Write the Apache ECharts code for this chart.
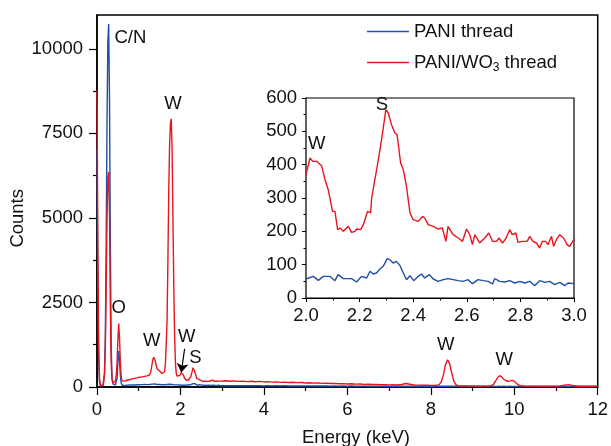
<!DOCTYPE html>
<html><head><meta charset="utf-8">
<script src="https://cdn.jsdelivr.net/npm/echarts@6/dist/echarts.min.js"></script>
<style>html,body{margin:0;padding:0;background:#fff}#c{width:611px;height:446px}</style>
</head><body><div id="c"></div>
<script>
// ---- Data ----
const seriesNames = ['PANI thread', 'PANI/WO\u2083 thread'];

// 0 - 2 keV
const energyLow = [0.00,0.02,0.04,0.06,0.08,0.10,0.12,0.14,0.16,0.18,
  0.20,0.22,0.24,0.26,0.28,0.30,0.32,0.34,0.36,0.38,
  0.40,0.42,0.44,0.46,0.48,0.50,0.52,0.54,0.56,0.58,
  0.60,0.62,0.64,0.66,0.68,0.70,0.72,0.74,0.76,0.78,
  0.80,0.82,0.84,0.86,0.88,0.90,0.92,0.94,0.96,0.98,
  1.00,1.02,1.04,1.06,1.08,1.10,1.12,1.14,1.16,1.18,
  1.20,1.22,1.24,1.26,1.28,1.30,1.32,1.34,1.36,1.38,
  1.40,1.42,1.44,1.46,1.48,1.50,1.52,1.54,1.56,1.58,
  1.60,1.62,1.64,1.66,1.68,1.70,1.72,1.74,1.76,1.78,
  1.80,1.82,1.84,1.86,1.88,1.90,1.92,1.94,1.96,1.98];
const redLow = [8770,4200,1200,250,60,30,25,40,120,400,
  1200,3000,5000,6200,6360,5000,2300,700,230,130,
  110,120,170,320,700,1400,1880,1450,700,300,
  180,150,160,175,170,190,200,195,210,215,
  225,220,240,235,250,255,260,250,270,275,
  280,290,285,295,300,305,300,315,310,320,
  330,325,340,360,420,520,680,820,880,860,
  760,620,540,510,490,470,450,420,400,380,
  390,450,700,1300,2000,3800,5800,7200,7800,7930,
  7000,5000,3000,1500,700,400,320,300,310,340];
const blueLow = [7000,3000,800,150,40,20,20,30,80,400,
  1500,4200,7800,10200,10730,8500,4200,1200,300,90,
  60,50,60,100,250,700,1060,800,350,120,
  60,40,45,40,50,45,55,50,55,60,
  55,62,58,60,65,60,66,62,68,64,
  70,66,72,68,70,74,70,72,68,74,
  70,72,75,74,78,82,86,90,92,88,
  84,78,74,72,70,72,68,70,66,68,
  64,66,68,70,74,78,80,82,84,80,
  76,72,68,64,62,60,62,58,60,58];

// 2 - 3 keV (also shown in the inset)
const insetEnergyRed = [2.000,2.015,2.025,2.040,2.058,2.071,2.083,2.099,2.108,2.118,
  2.127,2.139,2.158,2.170,2.183,2.189,2.204,2.214,2.230,2.241,
  2.245,2.257,2.270,2.282,2.298,2.307,2.319,2.332,2.340,2.353,
  2.363,2.375,2.388,2.400,2.419,2.435,2.443,2.456,2.475,2.493,
  2.509,2.522,2.530,2.549,2.568,2.584,2.599,2.611,2.621,2.630,
  2.648,2.667,2.682,2.696,2.711,2.720,2.733,2.745,2.760,2.770,
  2.783,2.791,2.807,2.825,2.835,2.847,2.860,2.872,2.882,2.894,
  2.903,2.916,2.924,2.934,2.947,2.961,2.974,2.984,3.000];
const insetRed = [370,420,410,410,397,355,325,260,260,205,
  210,200,215,197,200,207,205,220,260,255,
  300,355,415,475,565,555,520,495,490,405,
  385,335,255,235,230,245,240,220,215,207,
  210,170,215,190,180,170,207,190,160,190,
  165,180,195,170,170,180,165,177,205,190,
  195,167,170,170,185,170,165,150,170,170,
  160,185,155,175,190,180,160,155,177];
const insetEnergyBlue = [2.000,2.027,2.046,2.065,2.089,2.108,2.120,2.139,2.170,2.189,
  2.207,2.226,2.239,2.251,2.263,2.276,2.288,2.303,2.313,2.325,
  2.338,2.350,2.363,2.375,2.388,2.402,2.419,2.431,2.443,2.460,
  2.475,2.493,2.512,2.530,2.549,2.568,2.586,2.605,2.621,2.642,
  2.661,2.680,2.696,2.704,2.723,2.742,2.760,2.779,2.798,2.816,
  2.835,2.853,2.872,2.891,2.909,2.928,2.947,2.965,2.978,3.000];
const insetBlue = [57,65,53,65,65,52,70,58,58,48,
  65,60,80,72,75,87,95,118,115,105,
  110,98,75,55,67,52,65,72,60,70,
  57,50,55,58,55,52,50,55,43,55,
  52,50,42,58,50,48,52,45,50,45,
  50,37,52,47,50,40,47,37,45,43];

// 3 - 12 keV
const energyHigh = [3.1,3.2,3.3,3.4,3.5,3.6,3.7,3.8,3.9,4.0,
  4.1,4.2,4.3,4.4,4.5,4.6,4.7,4.8,4.9,5.0,
  5.1,5.2,5.3,5.4,5.5,5.6,5.7,5.8,5.9,6.0,
  6.1,6.2,6.3,6.4,6.5,6.6,6.7,6.8,6.9,7.0,
  7.1,7.2,7.3,7.4,7.5,7.6,7.7,7.8,7.9,
  8.0,8.05,8.1,8.15,8.2,8.25,8.3,8.35,8.4,8.45,
  8.5,8.55,8.6,8.65,8.7,8.75,8.8,8.85,8.9,8.95,
  9.0,9.05,9.1,9.15,9.2,9.25,9.3,9.35,9.4,9.45,
  9.5,9.55,9.6,9.65,9.7,9.75,9.8,9.85,9.9,9.95,
  10.0,10.05,10.1,10.15,10.2,10.25,10.3,10.35,10.4,
  10.5,10.6,10.7,10.8,10.9,11.0,11.1,11.2,11.3,11.4,11.5,11.6,11.7,11.8,11.9,12.0];
const redHigh = [185,170,180,165,175,160,170,155,165,150,
  158,145,150,138,145,132,140,128,133,120,
  126,115,120,108,114,102,108,96,100,90,
  95,85,88,78,82,72,76,66,70,62,
  66,60,75,105,80,58,55,50,52,
  48,46,45,50,70,150,350,650,805,700,
  420,180,70,40,32,30,28,30,26,28,
  25,27,24,26,25,24,22,25,28,40,
  80,170,280,335,300,230,185,170,180,195,
  175,110,60,38,30,28,27,26,26,
  25,24,25,24,25,26,30,50,70,45,28,24,22,22,20,20];
const blueHigh = [42,38,41,37,40,36,39,35,38,34,
  37,33,36,32,35,31,34,30,33,30,
  32,29,31,28,30,27,29,27,28,26,
  28,25,27,25,26,24,26,23,25,23,
  24,22,24,22,23,21,23,22,21,
  22,21,22,20,21,22,21,22,20,21,
  22,20,21,20,21,19,20,21,20,19,
  20,21,19,20,19,20,21,19,20,19,
  20,19,18,20,19,20,18,19,20,18,
  19,18,19,20,18,19,18,19,18,
  18,19,17,18,19,17,18,17,18,17,18,17,16,17,16,17];

// Tick labels
const mainYTicks = [0, 2500, 5000, 7500, 10000];
const mainYMinorTicks = [1250, 3750, 6250, 8750];

// Peak annotations (main plot, data coordinates)
const annoText = ['C/N', 'W', 'O', 'W', 'W', 'S', 'W', 'W'];
const annoX = [0.80, 1.82, 0.52, 1.31, 2.15, 2.36, 8.36, 9.76];
const annoY = [10330, 8380, 2330, 1350, 1490, 870, 1250, 790];
const arrowFrom = [2.10, 1130];
const arrowTo = [2.02, 430];
// Inset annotations
const insetAnnoText = ['W', 'S'];
const insetAnnoX = [2.04, 2.283];
const insetAnnoY = [461, 578];

// ---- Build ----
const pair = (xs, ys) => xs.map((x, i) => [x, ys[i]]);
const mainBlue = pair(energyLow, blueLow).concat(pair(insetEnergyBlue, insetBlue), pair(energyHigh, blueHigh));
const mainRed = pair(energyLow, redLow).concat(pair(insetEnergyRed, insetRed), pair(energyHigh, redHigh));

const BLUE = '#1f4fa6', RED = '#e8141e', TXT = '#111';
const FONT = 'Liberation Sans, Arial, sans-serif';
const FS = 18.5;

const chart = echarts.init(document.getElementById('c'), null, {renderer: 'canvas'});
chart.setOption({
  animation: false,
  textStyle: {fontFamily: FONT},
  grid: [
    {left: 97, top: 15, right: 11, bottom: 59, show: true, borderColor: '#000', borderWidth: 1.5, backgroundColor: 'transparent'},
    {left: 306, top: 98, width: 268, height: 200, show: true, borderColor: '#000', borderWidth: 1.2, backgroundColor: '#fff', z: 3}
  ],
  legend: {
    data: seriesNames, orient: 'vertical', left: 362, top: 17, icon: 'rect', itemWidth: 42, itemHeight: 1.6, itemGap: 12,
    textStyle: {fontSize: FS, color: TXT, fontFamily: FONT,
      rich: {n: {fontSize: FS, color: TXT, fontFamily: FONT}, s: {fontSize: 12, color: TXT, fontFamily: FONT, padding: [10, 0, 0, 0]}}},
    formatter: name => name === seriesNames[1] ? '{n|PANI/WO}{s|3}{n| thread}' : name
  },
  xAxis: [
    {gridIndex: 0, type: 'value', min: 0, max: 12, interval: 2,
      axisLine: {lineStyle: {color: '#000', width: 1.5}},
      axisTick: {inside: false, length: 8, lineStyle: {color: '#000', width: 1.2}},
      minorTick: {show: true, splitNumber: 2, length: 4, lineStyle: {color: '#000', width: 1.2}},
      axisLabel: {fontSize: FS, color: TXT, margin: 13, fontFamily: FONT},
      splitLine: {show: false}},
    {gridIndex: 1, type: 'value', min: 2.0, max: 3.0, interval: 0.2,
      axisLine: {lineStyle: {color: '#000', width: 1.2}},
      axisTick: {length: 4, lineStyle: {color: '#000', width: 1}},
      minorTick: {show: true, splitNumber: 2, length: 2.5, lineStyle: {color: '#000', width: 1}},
      axisLabel: {fontSize: FS, color: TXT, margin: 8, fontFamily: FONT, formatter: v => v.toFixed(1)},
      splitLine: {show: false}}
  ],
  yAxis: [
    {gridIndex: 0, type: 'value', min: 0, max: 11000,
      axisLine: {show: true, lineStyle: {color: '#000', width: 1.5}},
      axisTick: {show: true, length: 8, customValues: mainYTicks, lineStyle: {color: '#000', width: 1.2}},
      axisLabel: {fontSize: FS, color: TXT, margin: 14, fontFamily: FONT, customValues: mainYTicks, formatter: v => String(v)},
      splitLine: {show: false}},
    {gridIndex: 0, type: 'value', min: 0, max: 11000,
      axisLine: {show: false},
      axisTick: {show: true, length: 4, customValues: mainYMinorTicks, lineStyle: {color: '#000', width: 1.2}},
      axisLabel: {show: false}, splitLine: {show: false}, position: 'left'},
    {gridIndex: 1, type: 'value', min: 0, max: 600, interval: 100,
      axisLine: {show: true, lineStyle: {color: '#000', width: 1.2}},
      axisTick: {length: 4, lineStyle: {color: '#000', width: 1}},
      minorTick: {show: true, splitNumber: 2, length: 2.5, lineStyle: {color: '#000', width: 1}},
      axisLabel: {fontSize: FS, color: TXT, margin: 9, fontFamily: FONT},
      splitLine: {show: false}}
  ],
  series: [
    {name: seriesNames[0], type: 'line', xAxisIndex: 0, yAxisIndex: 0, data: mainBlue, showSymbol: false, symbol: 'none',
      lineStyle: {color: BLUE, width: 1.4}, itemStyle: {color: BLUE}, z: 2},
    {name: seriesNames[1], type: 'line', xAxisIndex: 0, yAxisIndex: 0, data: mainRed, showSymbol: false, symbol: 'none',
      lineStyle: {color: RED, width: 1.4}, itemStyle: {color: RED}, z: 2},
    {name: 'inset-blue', type: 'line', xAxisIndex: 1, yAxisIndex: 2, data: pair(insetEnergyBlue, insetBlue), showSymbol: false, symbol: 'none',
      lineStyle: {color: BLUE, width: 1.4}, z: 4, clip: true},
    {name: 'inset-red', type: 'line', xAxisIndex: 1, yAxisIndex: 2, data: pair(insetEnergyRed, insetRed), showSymbol: false, symbol: 'none',
      lineStyle: {color: RED, width: 1.4}, z: 4, clip: true},
    {name: 'annotations', type: 'scatter', xAxisIndex: 0, yAxisIndex: 0, symbolSize: 0, silent: true, z: 6,
      itemStyle: {opacity: 1},
      data: annoText.map((t, i) => ({name: t, value: [annoX[i], annoY[i]]})),
      label: {show: true, position: 'inside', formatter: p => p.name, fontSize: FS, color: TXT, fontFamily: FONT},
      markLine: {silent: true, symbol: ['none', 'arrow'], symbolSize: 9, label: {show: false},
        lineStyle: {color: '#000', width: 1.2, type: 'solid', opacity: 1},
        data: [[{coord: arrowFrom}, {coord: arrowTo}]]}},
    {name: 'inset-annotations', type: 'scatter', xAxisIndex: 1, yAxisIndex: 2, symbolSize: 0, silent: true, z: 6,
      itemStyle: {opacity: 1},
      data: insetAnnoText.map((t, i) => ({name: t, value: [insetAnnoX[i], insetAnnoY[i]]})),
      label: {show: true, position: 'inside', formatter: p => p.name, fontSize: FS, color: TXT, fontFamily: FONT}}
  ],
  graphic: [
    {type: 'text', left: 8, top: 189, rotation: Math.PI / 2, style: {text: 'Counts', fill: TXT, font: FS + 'px ' + FONT}},
    {type: 'text', left: 302, top: 428, style: {text: 'Energy (keV)', fill: TXT, font: FS + 'px ' + FONT}}
  ]
});
</script></body></html>
